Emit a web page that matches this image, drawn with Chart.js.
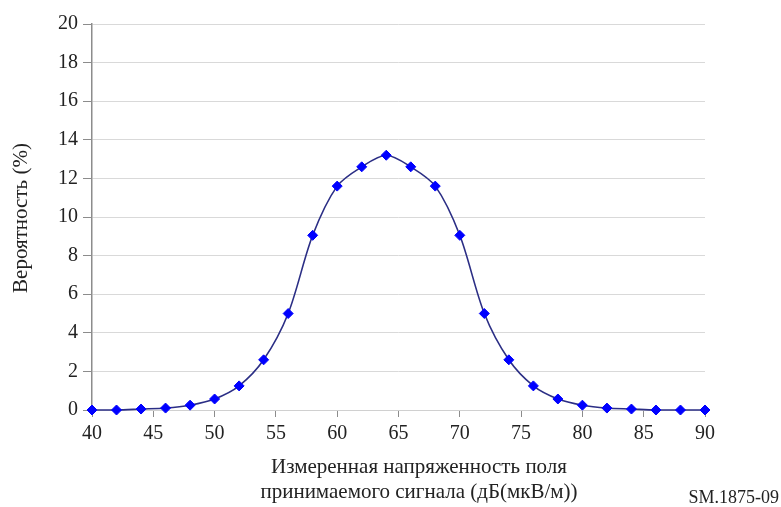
<!DOCTYPE html>
<html>
<head>
<meta charset="utf-8">
<script src="https://cdn.jsdelivr.net/npm/chart.js@4/dist/chart.umd.min.js"></script>
<style>
  html, body { margin: 0; padding: 0; background: #fff; }
  #wrap { position: relative; width: 781px; height: 507px; }
</style>
</head>
<body>
<div id="wrap"><canvas id="c" width="781" height="507"></canvas></div>
<script>
// Field strength (dB(µV/m)) and probability (%)
const fieldStrength = [40, 42, 44, 46, 48, 50, 52, 54, 56, 58, 60, 62, 64, 66, 68, 70, 72, 74, 76, 78, 80, 82, 84, 86, 88, 90];
const probability   = [0, 0, 0.05, 0.1, 0.25, 0.57, 1.25, 2.6, 5.0, 9.05, 11.6, 12.6, 13.2, 12.6, 11.6, 9.05, 5.0, 2.6, 1.25, 0.57, 0.25, 0.1, 0.05, 0, 0, 0];

const xTitle = ['Измеренная напряженность поля', 'принимаемого сигнала (дБ(мкВ/м))'];
const yTitle = 'Вероятность (%)';
const figureId = 'SM.1875-09';

const serif = '"Liberation Serif", "DejaVu Serif", serif';
const textColor = '#222';

// Axis titles and the figure reference, placed around the plot area
const captions = {
  id: 'captions',
  afterDraw(chart) {
    const ctx = chart.ctx;
    ctx.save();
    ctx.fillStyle = textColor;
    ctx.textBaseline = 'middle';

    ctx.font = '21px ' + serif;
    ctx.textAlign = 'center';
    ctx.fillText(xTitle[0], 419, 467);
    ctx.fillText(xTitle[1], 419, 492);

    ctx.save();
    ctx.translate(21, 218);
    ctx.rotate(-Math.PI / 2);
    ctx.fillText(yTitle, 0, 0);
    ctx.restore();

    ctx.font = '18px ' + serif;
    ctx.textAlign = 'right';
    ctx.fillText(figureId, 779, 498);
    ctx.restore();
  }
};

new Chart(document.getElementById('c'), {
  type: 'line',
  data: {
    datasets: [{
      data: fieldStrength.map((x, i) => ({ x: x, y: probability[i] })),
      borderColor: '#2b2e85',
      borderWidth: 1.6,
      tension: 0.3,
      pointStyle: 'rectRot',
      pointRadius: 5,
      pointHoverRadius: 5,
      pointBackgroundColor: '#0000ff',
      pointBorderColor: '#0000ff',
      pointBorderWidth: 1,
      clip: false
    }]
  },
  options: {
    responsive: false,
    animation: false,
    devicePixelRatio: 1,
    layout: { padding: { left: 0, top: 24, right: 76, bottom: 0 } },
    plugins: {
      legend: { display: false },
      tooltip: { enabled: false }
    },
    scales: {
      x: {
        type: 'linear',
        min: 40,
        max: 90,
        ticks: {
          stepSize: 5,
          color: textColor,
          font: { family: serif, size: 20 },
          padding: 5
        },
        grid: {
          drawOnChartArea: false,
          drawTicks: true,
          tickLength: 7,
          color: '#8c8c8c'
        },
        border: { color: '#d0d0d0', width: 1 },
        afterFit(scale) { scale.height = 97; }
      },
      y: {
        min: 0,
        max: 20,
        ticks: {
          stepSize: 2,
          color: textColor,
          font: { family: serif, size: 20 },
          padding: 5
        },
        grid: {
          color: '#d9d9d9',
          tickColor: '#8c8c8c',
          tickLength: 9
        },
        border: { color: '#8c8c8c', width: 1.5 },
        afterFit(scale) { scale.width = 92; }
      }
    }
  },
  plugins: [captions]
});
</script>
</body>
</html>
